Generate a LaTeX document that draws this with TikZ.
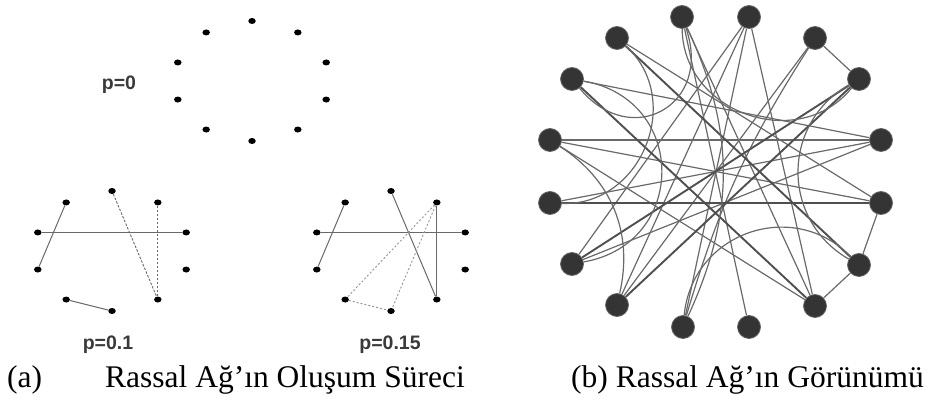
\documentclass[tikz,border=0pt]{standalone}
\usepackage{fontspec}
\usetikzlibrary{shapes.geometric}
\setmainfont{Liberation Serif}
\newfontfamily\labelfont{Liberation Sans}
\definecolor{hubgray}{RGB}{52,52,52}
\definecolor{linkgray}{RGB}{105,105,105}
\definecolor{textgray}{RGB}{58,58,58}
\tikzset{
  dot/.style={ellipse,fill=black,inner sep=0pt,minimum width=7.5pt,minimum height=6pt},
  hub/.style={circle,fill=hubgray,draw=hubgray!75!white,line width=0.8pt,inner sep=0pt,minimum size=23pt},
  plainlink/.style={draw=linkgray,line width=1pt},
  dashlink/.style={draw=linkgray,line width=0.9pt,dash pattern=on 2.5pt off 1.5pt},
  dotlink/.style={draw=linkgray!70!white,line width=0.9pt,dash pattern=on 2pt off 2pt},
  link/.style={draw=linkgray,line width=1.2pt},
  boldlink/.style={draw=linkgray!75!black,line width=1.9pt},
  plabel/.style={font=\labelfont\bfseries\fontsize{19.5}{22}\selectfont,text=textgray,inner sep=0pt},
  caption/.style={font=\fontsize{31.5}{38}\selectfont,inner sep=0pt,anchor=base west}
}
\begin{document}
\begin{tikzpicture}[x=1pt,y=-1pt]
\useasboundingbox (0,0) rectangle (933,403);
% three rings of the process
\foreach \k in {0,...,9}
  \node[dot] (a\k) at ({252+78*cos(90-36*\k)},{81-60*sin(90-36*\k)}) {};
\foreach \k in {0,...,9}
  \node[dot] (b\k) at ({112+78*cos(90-36*\k)},{251-60*sin(90-36*\k)}) {};
\foreach \k in {0,...,9}
  \node[dot] (c\k) at ({391+78*cos(90-36*\k)},{251-60*sin(90-36*\k)}) {};
\node[plabel] (p0) at (119,85) {p=0};
\node[plabel] (p1) at (108,345) {p=0.1};
\node[plabel] (p2) at (390,345) {p=0.15};
\draw[plainlink] (b9) -- (b7);
\draw[plainlink] (b8) -- (b2);
\draw[plainlink] (b6) -- (b5);
\draw[dashlink] (b0) -- (b4);
\draw[dashlink] (b1) -- (b4);
\draw[plainlink] (c9) -- (c7);
\draw[plainlink] (c8) -- (c2);
\draw[plainlink] (c0) -- (c4);
\draw[plainlink] (c1) -- (c4);
\draw[dotlink] (c1) -- (c6);
\draw[dotlink] (c1) -- (c5);
\draw[dotlink] (c6) -- (c5);
% random network
\foreach \i/\px/\py in {1/881/140,2/859/79,3/815/38,4/749/17,5/682/17,6/617/38,
  7/572/79,8/550/140,9/550/203,10/572/264,11/617/305,12/683/327,13/749/327,
  14/815/306,15/859/265,16/881/203}
  \node[hub] (n\i) at (\px,\py) {};
\draw[link] (n2) -- (n3);
\draw[link] (n16) -- (n15);
\draw[link] (n15) -- (n14);
\draw[link] (n8) -- (n1);
\draw[link] (n8) -- (n16);
\draw[link] (n7) -- (n1);
\draw[link] (n8) -- (n14);
\draw[link] (n10) -- (n1);
\draw[link] (n11) -- (n3);
\draw[link] (n11) -- (n4);
\draw[link] (n12) -- (n4);
\draw[link] (n12) to[bend left=8] (n3);
\draw[link] (n13) -- (n5);
\draw[link] (n14) -- (n5);
\draw[link] (n14) -- (n4);
\draw[link] (n9) -- (n1);
\draw[link] (n16) -- (n6);
\draw[link] (n4) -- (n10);
\draw[boldlink] (n9) -- (n16);
\draw[boldlink] (n7) -- (n14);
\draw[boldlink] (n6) -- (n15);
\draw[boldlink] (n10) -- (n2);
\draw[boldlink] (n11) -- (n2);
\draw[link] (n5) to[bend left=80,looseness=1.7] (n7);
\draw[link] (n2) to[bend left=70,looseness=1.2] (n5);
\draw[link] (n7) to[bend left=80,looseness=1.5] (n10);
\draw[link] (n6) to[bend left=70,looseness=1.2] (n9);
\draw[link] (n15) to[bend left=60,looseness=1.15] (n2);
\draw[link] (n12) to[bend left=65,looseness=1.2] (n15);
\draw[link] (n5) to[bend left=25] (n12);
\draw[link] (n8) to[bend left=35] (n11);
\node[caption] (capa) at (7,387) {(a)};
\node[caption] (capt) at (105,387) {Rassal Ağ’ın Oluşum Süreci};
\node[caption] (capb) at (571,387) {(b) Rassal Ağ’ın Görünümü};
\end{tikzpicture}
\end{document}
